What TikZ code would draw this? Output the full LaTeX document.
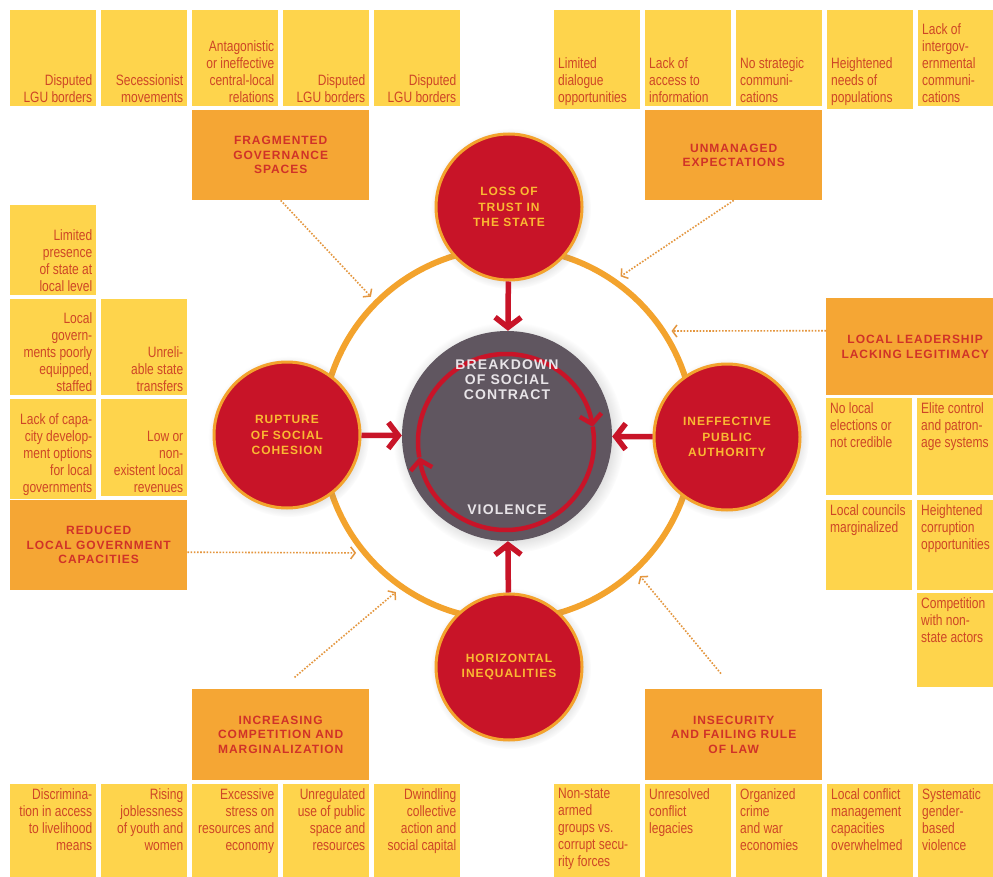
\documentclass[tikz,border=0pt]{standalone}
\usepackage{fontspec}
\usepackage{xcolor}
\usepackage{tikz}
\usetikzlibrary{calc}
\usetikzlibrary{arrows.meta, shadows, positioning}
\setmainfont{Liberation Sans}
\newfontfamily\narrowfont[FakeStretch=0.8]{Liberation Sans}
\newfontfamily\capsfont[LetterSpace=8]{Liberation Sans}

\definecolor{FactorYellow}{RGB}{254,212,76}
\definecolor{HeadOrange}{RGB}{245,166,52}
\definecolor{FactorText}{RGB}{206,70,38}
\definecolor{HeadText}{RGB}{208,50,40}
\definecolor{CircleRed}{RGB}{200,20,40}
\definecolor{RingOrange}{RGB}{243,163,45}
\definecolor{DotOrange}{RGB}{228,150,62}
\definecolor{CircleText}{RGB}{250,185,50}
\definecolor{CoreGrey}{RGB}{96,86,96}
\definecolor{CoreText}{RGB}{232,228,232}

%text blocks inside the yellow boxes
\newcommand{\botright}[2][88pt]{\parbox[c][#1][b]{78pt}{\raggedleft #2}}
\newcommand{\botleft}[2][88pt]{\parbox[c][#1][b]{78pt}{\raggedright #2}}
\newcommand{\topright}[2][92pt]{\parbox[c][#1][t]{78pt}{\raggedleft #2}}
\newcommand{\topleft}[2][88pt]{\parbox[c][#1][t]{78pt}{\raggedright #2}}

\tikzset{dot arrow/.style={draw=DotOrange, line width=1.6pt, dash pattern=on 1.6pt off 1.6pt,
  -{Straight Barb[length=4.5pt,width=12pt,line width=1.5pt]}, shorten >=5pt}}

\begin{document}
\begin{tikzpicture}[x=1pt,y=-1pt,
  factor node/.style={rectangle,fill=FactorYellow,inner sep=4pt,anchor=north west,text=FactorText,
    font=\narrowfont\fontsize{15}{17}\selectfont},
  driver node/.style={rectangle,fill=HeadOrange,anchor=north west,minimum width=177pt,minimum height=90pt,
    align=center,text=HeadText,font=\capsfont\bfseries\fontsize{12}{14.5}\selectfont},
  cause node/.style={circle,fill=CircleRed,draw=RingOrange,line width=3pt,minimum size=146pt,align=center,
    text=CircleText,font=\capsfont\bfseries\fontsize{12}{15.5}\selectfont,circular drop shadow={opacity=0.25}},
  core text/.style={align=center,text=CoreText,font=\capsfont\bfseries\fontsize{14}{15}\selectfont},
  push arrow/.style={draw=CircleRed,line width=5.5pt,-{Straight Barb[length=10pt,width=26pt,line width=5.5pt]}},
  spin arrow/.style={draw=CircleRed,line width=4.5pt,-{Straight Barb[length=9pt,width=22pt,line width=4.5pt]}}]

 \fill[white] (0,0) rectangle (993,877);
 \useasboundingbox (0,0) rectangle (993,877);

%Top row, left half
 \node[factor node] (TopLeft1) at (10,10) {\botright{Disputed\\LGU borders}};
 \node[factor node] (TopLeft2) at (101,10) {\botright{Secessionist\\movements}};
 \node[factor node] (TopLeft3) at (192,10) {\botright{Antagonistic\\or ineffective\\central-local\\relations}};
 \node[factor node] (TopLeft4) at (283,10) {\botright{Disputed\\LGU borders}};
 \node[factor node] (TopLeft5) at (374,10) {\botright{Disputed\\LGU borders}};
 \node[driver node] (Fragmented) at (192,110) {FRAGMENTED\\GOVERNANCE\\SPACES};

%Top row, right half
 \node[factor node] (TopRight1) at (554,10) {\botleft{Limited\\dialogue\\opportunities}};
 \node[factor node] (TopRight2) at (645,10) {\botleft{Lack of\\access to\\information}};
 \node[factor node] (TopRight3) at (736,10) {\botleft{No strategic\\communi-\\cations}};
 \node[factor node] (TopRight4) at (827,10) {\botleft{Heightened\\needs of\\populations}};
 \node[factor node] (TopRight5) at (918,10) {\botleft{Lack of\\intergov-\\ernmental\\communi-\\cations}};
 \node[driver node] (Unmanaged) at (645,110) {UNMANAGED\\EXPECTATIONS};

%Left column
 \node[factor node] (LeftCol1) at (10,205) {\botright[82pt]{Limited\\presence\\of state at\\local level}};
 \node[factor node] (LeftCol2) at (10,299) {\botright{Local\\govern-\\ments poorly\\equipped,\\staffed}};
 \node[factor node] (LeftCol3) at (101,299) {\botright{Unreli-\\able state\\transfers}};
 \node[factor node] (LeftCol4) at (10,399) {\botright[89pt]{Lack of capa-\\city develop-\\ment options\\for local\\governments}};
 \node[factor node] (LeftCol5) at (101,399) {\botright[89pt]{Low or\\non-\\existent local\\revenues}};
 \node[driver node] (Reduced) at (10,500) {REDUCED\\LOCAL GOVERNMENT\\CAPACITIES};

%Right column
 \node[driver node,minimum width=178pt,minimum height=97pt] (Leadership) at (826,298) {LOCAL LEADERSHIP\\LACKING LEGITIMACY};
 \node[factor node] (RightCol1) at (826,398) {\topleft[89pt]{No local\\elections or\\not credible}};
 \node[factor node] (RightCol2) at (917,398) {\topleft[89pt]{Elite control\\and patron-\\age systems}};
 \node[factor node] (RightCol3) at (826,500) {\topleft[82pt]{Local councils\\marginalized}};
 \node[factor node] (RightCol4) at (917,500) {\topleft[82pt]{Heightened\\corruption\\opportunities}};
 \node[factor node] (RightCol5) at (917,593) {\topleft[86pt]{Competition\\with non-\\state actors}};

%Bottom row, left half
 \node[driver node,minimum height=91pt] (Increasing) at (192,689) {INCREASING\\COMPETITION AND\\MARGINALIZATION};
 \node[factor node] (BottomLeft1) at (10,784) {\topright{Discrimina-\\tion in access\\to livelihood\\means}};
 \node[factor node] (BottomLeft2) at (101,784) {\topright{Rising\\joblessness\\of youth and\\women}};
 \node[factor node] (BottomLeft3) at (192,784) {\topright{Excessive\\stress on\\resources and\\economy}};
 \node[factor node] (BottomLeft4) at (283,784) {\topright{Unregulated\\use of public\\space and\\resources}};
 \node[factor node] (BottomLeft5) at (374,784) {\topright{Dwindling\\collective\\action and\\social capital}};

%Bottom row, right half
 \node[driver node,minimum height=91pt] (Insecurity) at (645,689) {INSECURITY\\AND FAILING RULE\\OF LAW};
 \node[factor node] (BottomRight1) at (554,784) {\topleft[92pt]{Non-state\\armed\\groups vs.\\corrupt secu-\\rity forces}};
 \node[factor node] (BottomRight2) at (645,784) {\topleft[92pt]{Unresolved\\conflict\\legacies}};
 \node[factor node] (BottomRight3) at (736,784) {\topleft[92pt]{Organized\\crime\\and war\\economies}};
 \node[factor node] (BottomRight4) at (827,784) {\topleft[92pt]{Local conflict\\management\\capacities\\overwhelmed}};
 \node[factor node] (BottomRight5) at (918,784) {\topleft[92pt]{Systematic\\gender-\\based\\violence}};

%DRAWING the ring and the circles
 \node[circle,draw=RingOrange,line width=6pt,minimum size=372pt] (Ring) at (508,434) {};
 \node[circle,fill=CoreGrey,minimum size=210pt,circular drop shadow={opacity=0.3}] (Breakdown) at (507,436) {};

 \node[cause node] (LossTrust) at (509,207) {LOSS OF\\TRUST IN\\THE STATE};
 \node[cause node] (Rupture) at (287,435) {RUPTURE\\OF SOCIAL\\COHESION};
 \node[cause node] (Ineffective) at (727,437) {INEFFECTIVE\\PUBLIC\\AUTHORITY};
 \node[cause node] (Horizontal) at (509,667) {HORIZONTAL\\INEQUALITIES};

 \draw[push arrow] (LossTrust) -- (Breakdown);
 \draw[push arrow] (Rupture) -- (Breakdown);
 \draw[push arrow] (Ineffective) -- (Breakdown);
 \draw[push arrow] (Horizontal) -- (Breakdown);

%Inner cycle
 \coordinate (Spin) at (506,442);
 \draw[spin arrow] (Spin) ++(170:88) arc[start angle=170, end angle=350, radius=88];
 \draw[spin arrow] (Spin) ++(-10:88) arc[start angle=-10, end angle=170, radius=88];
 \node[core text] (BreakdownText) at (507,380) {BREAKDOWN\\OF SOCIAL\\CONTRACT};
 \node[core text] (ViolenceText) at (507,510) {VIOLENCE};

%Inserting dotted links into the ring
 \draw[dot arrow] (Fragmented.south) -- (Ring.135);
 \draw[dot arrow] (Unmanaged.south) -- (Ring.55);
 \draw[dot arrow] ([yshift=16pt]Leadership.west) -- (Ring.33);
 \draw[dot arrow] ([yshift=-7pt]Reduced.east) -- (Ring.219);
 \draw[dot arrow,shorten <=18pt] (Increasing.north) -- (Ring.235);
 \draw[dot arrow,shorten <=20pt] (Insecurity.north) -- (Ring.313);

\end{tikzpicture}
\end{document}
